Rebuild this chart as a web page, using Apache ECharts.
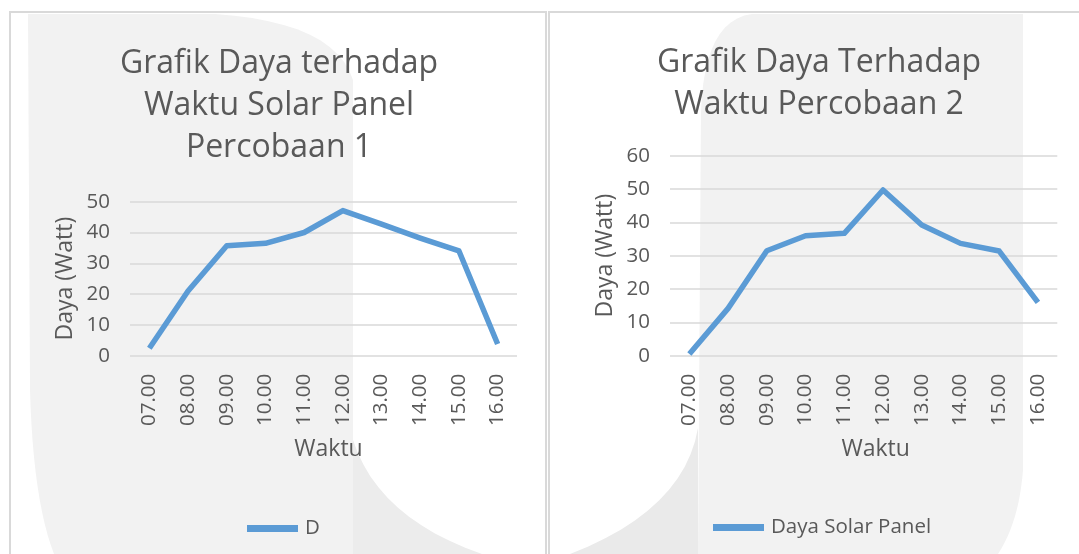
<!DOCTYPE html>
<html lang="en">
<head>
<meta charset="UTF-8">
<title>Grafik Daya</title>
<script src="https://cdn.jsdelivr.net/npm/echarts@6/dist/echarts.min.js"></script>
<style>
  html, body { margin: 0; padding: 0; background: #fff; }
  #chart { width: 1079px; height: 554px; }
</style>
</head>
<body>
<div id="chart"></div>
<script>
    // data
    var waktu = ['07.00', '08.00', '09.00', '10.00', '11.00', '12.00', '13.00', '14.00', '15.00', '16.00'];
    var daya1 = [2.4, 21, 35.7, 36.5, 40, 47.1, 42.7, 38.2, 34, 3.8];
    var daya2 = [0.5, 14.2, 31.5, 36, 36.7, 49.7, 39.2, 33.7, 31.4, 16];
    var yTicks1 = [0, 50, 10];   // min, max, step
    var yTicks2 = [0, 60, 10];

    var font = '"Open Sans", "Noto Sans", sans-serif';
    var grey = '#595959';
    var blue = '#5b9bd5';

    // quadratic curve -> polygon points, only for the faint background shape
    function curve(p0, c, p1) {
        var pts = [];
        for (var i = 0; i <= 12; i++) {
            var t = i / 12, u = 1 - t;
            pts.push([u * u * p0[0] + 2 * u * t * c[0] + t * t * p1[0],
                      u * u * p0[1] + 2 * u * t * c[1] + t * t * p1[1]]);
        }
        return pts;
    }

    var band1 = [[28, 14]].concat(curve([215, 14], [335, 22], [353, 80]), [[353, 554]], curve([54, 554], [33, 500], [30, 390]));
    var sweep1 = curve([353, 440], [378, 518], [482, 554]).concat([[353, 554]]);
    var band2 = curve([701, 112], [704, 20], [752, 14]).concat([[1023, 14]], curve([1023, 470], [1019, 522], [998, 554]), [[698, 554]]);
    var sweep2 = curve([698, 428], [684, 510], [570, 554]).concat([[698, 554]]);

    function xAxisOf(gi) {
        return {
            type: 'category', gridIndex: gi, data: waktu,
            axisLine: { show: false }, axisTick: { show: false },
            axisLabel: { rotate: 90, margin: 18, color: grey, fontSize: 20.5, fontFamily: font },
            name: 'Waktu', nameLocation: 'middle', nameGap: 82,
            nameTextStyle: { color: grey, fontSize: 23, fontFamily: font, padding: gi == 0 ? [0, 0, 0, 10] : [0, 0, 0, 24] }
        };
    }
    function yAxisOf(gi, t) {
        return {
            type: 'value', gridIndex: gi, min: t[0], max: t[1], interval: t[2],
            axisLine: { show: false }, axisTick: { show: false },
            axisLabel: { margin: 20, color: grey, fontSize: 20.5, fontFamily: font },
            splitLine: { lineStyle: { color: '#d9d9d9', width: 1.5 } },
            name: 'Daya (Watt)', nameLocation: 'middle', nameGap: 53,
            nameTextStyle: { color: grey, fontSize: 23, fontFamily: font }
        };
    }

    var ct = echarts.init(document.getElementById('chart'));
    var option = {
        animation: false,
        textStyle: { fontFamily: font },
        graphic: [
            // faint watermark behind the charts
            { type: 'polygon', z: -10, shape: { points: band1 }, style: { fill: '#f2f2f2' } },
            { type: 'polygon', z: -10, shape: { points: sweep1 }, style: { fill: '#ececec' } },
            { type: 'polygon', z: -10, shape: { points: band2 }, style: { fill: '#f2f2f2' } },
            { type: 'polygon', z: -10, shape: { points: sweep2 }, style: { fill: '#eaeaea' } },
            // chart frames
            { type: 'rect', z: -5, shape: { x: 10, y: 12, width: 536, height: 600 }, style: { fill: 'none', stroke: '#d9d9d9', lineWidth: 2 } },
            { type: 'rect', z: -5, shape: { x: 549, y: 12, width: 600, height: 600 }, style: { fill: 'none', stroke: '#d9d9d9', lineWidth: 2 } }
        ],
        title: [
            {
                text: 'Grafik Daya terhadap\nWaktu Solar Panel\nPercobaan 1',
                left: 274, top: 38, textAlign: 'center',
                textStyle: { color: grey, fontSize: 32, fontWeight: 'normal', lineHeight: 42, fontFamily: font }
            },
            {
                text: 'Grafik Daya Terhadap\nWaktu Percobaan 2',
                left: 814, top: 37, textAlign: 'center',
                textStyle: { color: grey, fontSize: 32, fontWeight: 'normal', lineHeight: 42, fontFamily: font }
            }
        ],
        legend: [
            {
                data: ['D'], left: 247, top: 518, padding: 0, icon: 'rect', itemWidth: 51, itemHeight: 7,
                textStyle: { color: grey, fontSize: 20.5, fontFamily: font, padding: [0, 0, 0, 2] }
            },
            {
                data: ['Daya Solar Panel'], left: 713, top: 517, padding: 0, icon: 'rect', itemWidth: 51, itemHeight: 7,
                textStyle: { color: grey, fontSize: 20.5, fontFamily: font, padding: [0, 0, 0, 2] }
            }
        ],
        grid: [
            { left: 130, top: 201.7, width: 387, height: 154 },
            { left: 670, top: 155.7, width: 387.3, height: 200 }
        ],
        xAxis: [xAxisOf(0), xAxisOf(1)],
        yAxis: [yAxisOf(0, yTicks1), yAxisOf(1, yTicks2)],
        series: [
            {
                name: 'D', type: 'line', xAxisIndex: 0, yAxisIndex: 0, data: daya1,
                showSymbol: false, color: blue,
                lineStyle: { color: blue, width: 5.5, join: 'round' }
            },
            {
                name: 'Daya Solar Panel', type: 'line', xAxisIndex: 1, yAxisIndex: 1, data: daya2,
                showSymbol: false, color: blue,
                lineStyle: { color: blue, width: 5.5, join: 'round' }
            }
        ]
    };
    ct.setOption(option);
</script>
</body>
</html>
